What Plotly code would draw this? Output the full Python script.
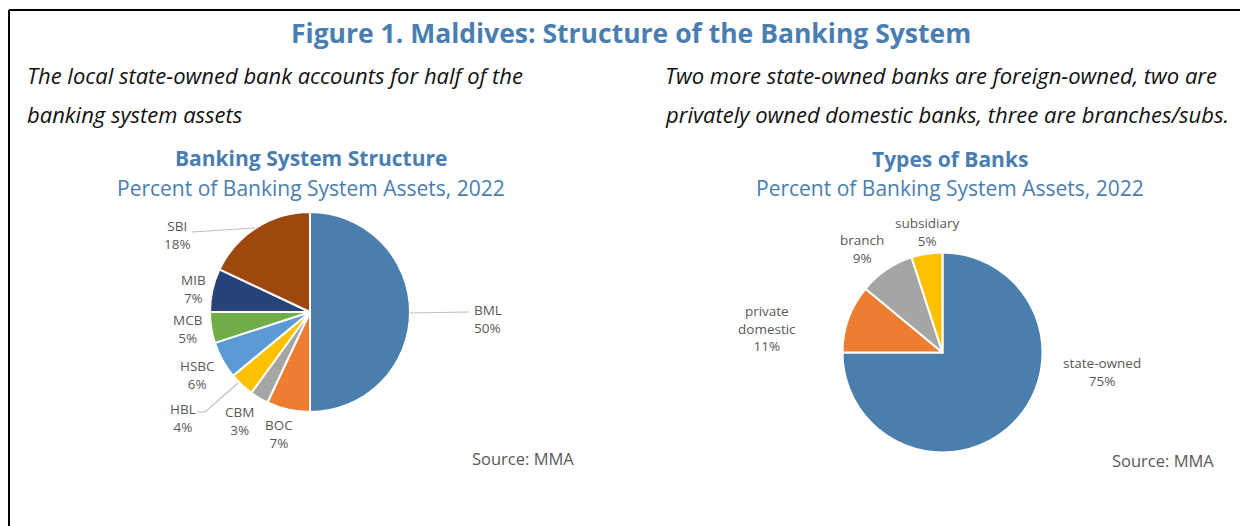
import plotly.graph_objects as go

W, H = 1248, 526
OX, OY = 8, 8  # page body margin offset

# ---- data ----
banks = ["BML", "BOC", "CBM", "HBL", "HSBC", "MCB", "MIB", "SBI"]
bank_share = [50, 7, 3, 4, 6, 5, 7, 18]
bank_colors = ["#4A7EAD", "#ED7D31", "#A5A5A5", "#FFC000", "#5B9BD5", "#70AD47", "#264478", "#9E480E"]

types = ["state-owned", "private domestic", "branch", "subsidiary"]
type_share = [75, 11, 9, 5]
type_colors = ["#4A7EAD", "#ED7D31", "#A5A5A5", "#FFC000"]

BLUE = "#4A7EB0"
GRAY = "#595959"
FONT = "Open Sans"


def px(x):
    return (x - OX) / W


def py(y):
    return 1 - (y - OY) / H


fig = go.Figure()

fig.add_trace(go.Pie(
    labels=banks, values=bank_share, sort=False, direction="clockwise", rotation=0,
    marker=dict(colors=bank_colors, line=dict(color="white", width=2)),
    textinfo="none", hoverinfo="label+percent", showlegend=False,
    domain=dict(x=[px(210), px(410)], y=[py(412), py(212)]),
))

fig.add_trace(go.Pie(
    labels=types, values=type_share, sort=False, direction="clockwise", rotation=0,
    marker=dict(colors=type_colors, line=dict(color="white", width=2)),
    textinfo="none", hoverinfo="label+percent", showlegend=False,
    domain=dict(x=[px(842.5), px(1042.5)], y=[py(452.5), py(252.5)]),
))

ann = []


def text(x, y, s, size=14, color=GRAY, bold=False, italic=False, align="center", xanchor="center"):
    if bold:
        s = "<b>" + s + "</b>"
    if italic:
        s = "<i>" + s + "</i>"
    ann.append(dict(x=px(x), y=py(y), xref="paper", yref="paper", text=s, showarrow=False,
                    font=dict(family=FONT, size=size, color=color), align=align,
                    xanchor=xanchor, yanchor="middle"))


# main title & subtitles
text(631, 33, "Figure 1. Maldives: Structure of the Banking System", size=26.5, color=BLUE, bold=True)
text(25, 75, "The local state-owned bank accounts for half of the", size=22, color="#111111", italic=True, xanchor="left")
text(25, 114, "banking system assets", size=22, color="#111111", italic=True, xanchor="left")
text(663, 75, "Two more state-owned banks are foreign-owned, two are", size=22, color="#111111", italic=True, xanchor="left")
text(663, 114, "privately owned domestic banks, three are branches/subs.", size=22, color="#111111", italic=True, xanchor="left")

# chart titles
text(311, 158, "Banking System Structure", size=21, color=BLUE, bold=True)
text(311, 188, "Percent of Banking System Assets, 2022", size=21, color=BLUE)
text(950, 159, "Types of Banks", size=21, color=BLUE, bold=True)
text(950, 188, "Percent of Banking System Assets, 2022", size=21, color=BLUE)

# pie 1 labels
lab1 = {
    "BML": (472, 319, "left"),
    "BOC": (279, 434, "center"),
    "CBM": (239, 421, "center"),
    "HBL": (183, 418, "center"),
    "HSBC": (198, 375, "center"),
    "MCB": (187, 329, "center"),
    "MIB": (193, 289, "center"),
    "SBI": (178, 235, "center"),
}
for b, v in zip(banks, bank_share):
    x, y, al = lab1[b]
    text(x, y, f"{b}<br>{v}%", size=13.5, align=al, xanchor="left" if al == "left" else "center")

# pie 2 labels
lab2 = {
    "state-owned": (1102, 372),
    "private domestic": (767, 328),
    "branch": (862, 249),
    "subsidiary": (927, 232),
}
for t, v in zip(types, type_share):
    x, y = lab2[t]
    s = "private<br>domestic" if t == "private domestic" else t
    text(x, y, f"{s}<br>{v}%", size=13.5)

text(470, 458, "Source: MMA", size=16.5, xanchor="left")
text(1110, 460, "Source: MMA", size=16.5, xanchor="left")

shapes = []


def seg(pts):
    path = "M " + " L ".join(f"{px(a)},{py(b)}" for a, b in pts)
    shapes.append(dict(type="path", path=path, xref="paper", yref="paper",
                       line=dict(color="#BFBFBF", width=1.2)))


seg([(410, 313), (469, 312)])
seg([(192, 232), (255, 228)])
seg([(197, 412), (205, 412), (238, 383)])

# frame
shapes.append(dict(type="line", xref="paper", yref="paper", x0=px(9), x1=1, y0=py(10), y1=py(10),
                   line=dict(color="black", width=2)))
shapes.append(dict(type="line", xref="paper", yref="paper", x0=px(9), x1=px(9), y0=py(10), y1=0,
                   line=dict(color="black", width=2)))

fig.update_layout(
    width=W, height=H, margin=dict(l=0, r=0, t=0, b=0),
    paper_bgcolor="white", plot_bgcolor="white",
    annotations=ann, shapes=shapes,
    font=dict(family=FONT),
)

fig.write_html("out.html")
